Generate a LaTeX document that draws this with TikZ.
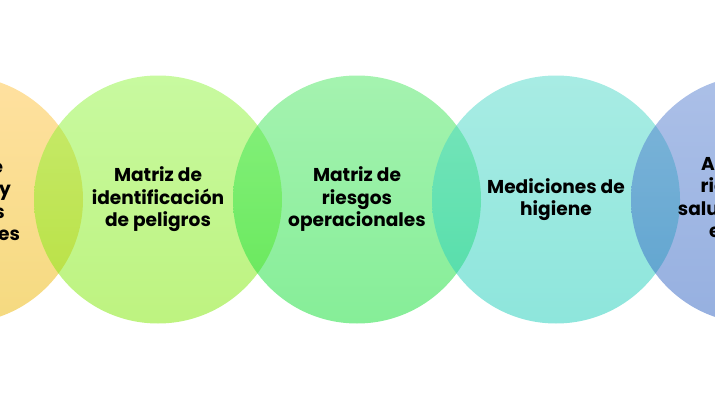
\documentclass[tikz,border=0pt]{standalone}
\usepackage{fontspec}
\setmainfont{Poppins}
\usetikzlibrary{positioning}
\definecolor{ambtop}{RGB}{255,195,65}
\definecolor{ambbot}{RGB}{235,181,0}
\definecolor{peltop}{RGB}{145,245,65}
\definecolor{pelbot}{RGB}{125,231,1}
\definecolor{opetop}{RGB}{75,231,97}
\definecolor{opebot}{RGB}{13,221,49}
\definecolor{higtop}{RGB}{81,217,201}
\definecolor{higbot}{RGB}{29,205,185}
\definecolor{saltop}{RGB}{89,129,209}
\definecolor{salbot}{RGB}{45,97,193}

\begin{document}
\begin{tikzpicture}[x=1pt,y=1pt,
bubble/.style={circle,minimum size=248pt,inner sep=0pt,outer sep=0pt,
  fill opacity=.5,text opacity=1,align=center,
  font=\bfseries\fontsize{18.6}{22.5}\selectfont}]
\useasboundingbox (0,0) rectangle (715,400);
\clip (0,0) rectangle (715,400);
\node[bubble,top color=ambtop,bottom color=ambbot] (amb) at (-41,200.5)
  {Matriz de\\aspectos y\\impactos\\ambientales};
\node[bubble,top color=peltop,bottom color=pelbot,right=-49pt of amb] (pel)
  {Matriz de\\identificación\\de peligros};
\node[bubble,top color=opetop,bottom color=opebot,right=-49pt of pel] (ope)
  {Matriz de\\riesgos\\operacionales};
\node[bubble,top color=higtop,bottom color=higbot,right=-49pt of ope] (hig)
  {Mediciones de\\higiene};
\node[bubble,top color=saltop,bottom color=salbot,right=-49pt of hig] (sal)
  {Agentes de\\riesgos a la\\salud laboral en\\el trabajo};
\end{tikzpicture}
\end{document}
